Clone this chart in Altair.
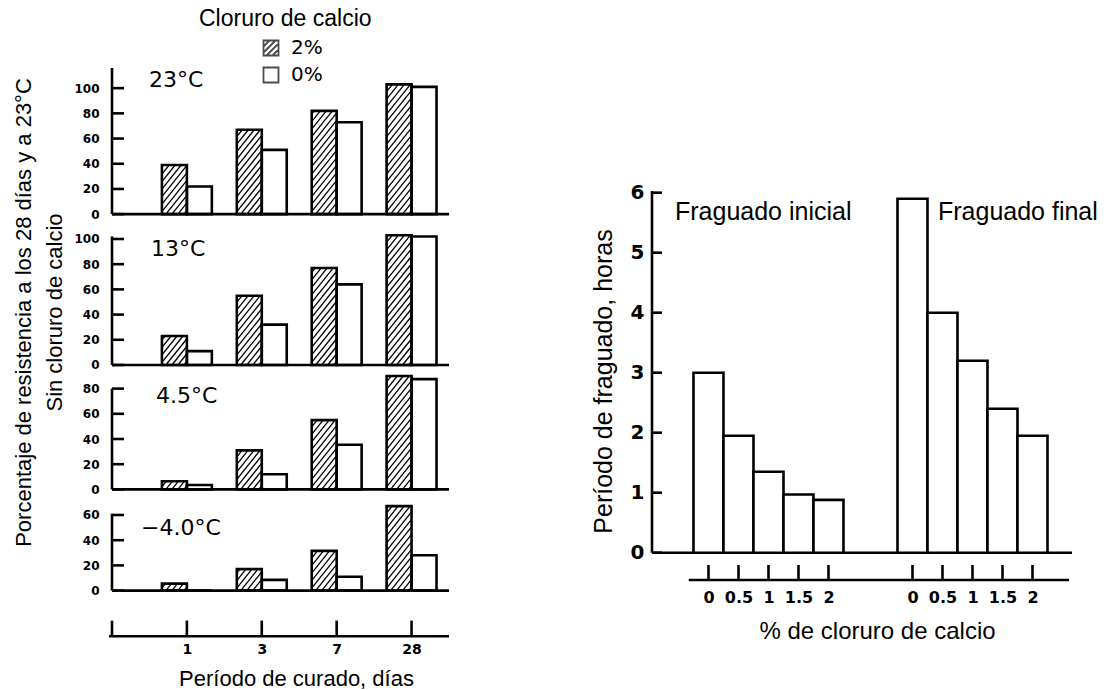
import altair as alt
import pandas as pd

# ---------------- Left figure data ----------------
temperatures = ["23°C", "13°C", "4.5°C", "−4.0°C"]
curing_days = ["1", "3", "7", "28"]
cacl2_series = ["2%", "0%"]

strength_23_with = [39, 67, 82, 103]
strength_23_without = [22, 51, 73, 101]
strength_13_with = [23, 55, 77, 103]
strength_13_without = [11, 32, 64, 102]
strength_45_with = [6.5, 31, 55, 90]
strength_45_without = [3.5, 12, 35.5, 87.5]
strength_m4_with = [5.5, 17, 31.5, 67]
strength_m4_without = [0, 8.5, 11, 28]

ticks_23 = [0, 20, 40, 60, 80, 100]
ticks_13 = [0, 20, 40, 60, 80, 100]
ticks_45 = [0, 20, 40, 60, 80]
ticks_m4 = [0, 20, 40, 60]
axis_tops = [116, 102, 80, 61]

# ---------------- Right figure data ----------------
set_groups = ["Fraguado inicial", "Fraguado final"]
cacl2_pct = [0, 0.5, 1, 1.5, 2]
initial_set_hours = [3.0, 1.95, 1.35, 0.97, 0.88]
final_set_hours = [5.9, 4.0, 3.2, 2.4, 1.95]
hour_ticks = [0, 1, 2, 3, 4, 5, 6]

# ---------------- layout constants ----------------
LW = 337
LXMAX = 4.5
PXY = 1.26
PXX = LW / LXMAX
BAR = 1 / 3
ydomains = [116, 111.1, 90.8, 71.9]
temp_label_pos = [(37, 12), (39, 23.7), (44, 20.7), (29, 28.3)]
LINE = 2.6
TICKFONT = "DejaVu Sans"
TXTFONT = "Liberation Sans"

with_lists = [strength_23_with, strength_13_with, strength_45_with, strength_m4_with]
without_lists = [strength_23_without, strength_13_without, strength_45_without, strength_m4_without]
tick_lists = [ticks_23, ticks_13, ticks_45, ticks_m4]

HATCH_SLOPE = 1.25
HATCH_STEP = 7.5


def hatch_rows(x0, value):
    wpx = BAR * PXX
    hpx = value * PXY
    rows = []
    b = -HATCH_SLOPE * wpx + HATCH_STEP / 2
    while b < hpx:
        xs = max(0.0, -b / HATCH_SLOPE)
        xe = min(wpx, (hpx - b) / HATCH_SLOPE)
        if xe > xs:
            rows.append(dict(hx=x0 + xs / PXX, hy=(HATCH_SLOPE * xs + b) / PXY,
                             hx2=x0 + xe / PXX, hy2=(HATCH_SLOPE * xe + b) / PXY))
        b += HATCH_STEP
    return rows


HATCH_SYMBOL = ("M-1,-1L1,-1L1,1L-1,1Z M-1,-0.2L-0.2,-1 M-1,0.6L0.6,-1 "
                "M-0.6,1L1,-0.6 M0.2,1L1,0.2")


def panel(i):
    ydom = ydomains[i]
    H = ydom * PXY
    rows, hrows = [], []
    for j, d in enumerate(curing_days):
        pos = j + 1
        rows.append(dict(day=d, pos=pos, series=cacl2_series[0], value=with_lists[i][j],
                         x0=pos - BAR, x1=pos, zero=0))
        rows.append(dict(day=d, pos=pos, series=cacl2_series[1], value=without_lists[i][j],
                         x0=pos, x1=pos + BAR, zero=0))
        hrows += hatch_rows(pos - BAR, with_lists[i][j])
    df = pd.DataFrame(rows)
    hdf = pd.DataFrame(hrows)
    xs = alt.Scale(domain=[0, LXMAX], nice=False, zero=False)
    ys = alt.Scale(domain=[0, ydom], nice=False, zero=True)

    if i == 1:
        yaxis = alt.Axis(values=tick_lists[i], domain=False, ticks=False, tickSize=0, grid=False,
                         labelPadding=13, labelFont=TICKFONT, labelFontWeight="bold",
                         labelFontSize=12, labelColor="black",
                         title=["Porcentaje de resistencia a los 28 días y a 23°C",
                                "Sin cloruro de calcio"],
                         titleFont=TXTFONT, titleFontSize=22, titleFontWeight="normal",
                         titleColor="black", titlePadding=7, titleLineHeight=31,
                         titleY=87)
    else:
        yaxis = alt.Axis(values=tick_lists[i], domain=False, ticks=False, tickSize=0, grid=False,
                         labelPadding=13, labelFont=TICKFONT, labelFontWeight="bold",
                         labelFontSize=12, labelColor="black", title=None)

    if i == 3:
        label_expr = "[" + ",".join("'%s'" % d for d in curing_days) + "][datum.value - 1]"
        xaxis = alt.Axis(values=[j + 1 for j in range(len(curing_days))], labelExpr=label_expr,
                         offset=45.7, domain=False, ticks=False, tickSize=0, grid=False,
                         labelPadding=6, labelFont=TICKFONT, labelFontWeight="bold",
                         labelFontSize=14, labelColor="black",
                         title="Período de curado, días", titleFont=TXTFONT,
                         titleFontSize=22, titleFontWeight="normal", titleColor="black",
                         titlePadding=12, titleX=184)
    else:
        xaxis = None

    baseline = alt.Chart(pd.DataFrame({"k": [0]})).mark_rule(
        color="black", strokeWidth=LINE).encode(
        x=alt.value(0), x2=alt.value(LW), y=alt.value(H))
    yline = alt.Chart(pd.DataFrame({"a": [0], "b": [axis_tops[i]]})).mark_rule(
        color="black", strokeWidth=LINE).encode(
        x=alt.value(0), y=alt.Y("a:Q", scale=ys, axis=yaxis), y2="b:Q")
    yticks = alt.Chart(pd.DataFrame({"v": tick_lists[i]})).mark_rule(
        color="black", strokeWidth=LINE).encode(
        y=alt.Y("v:Q", scale=ys, axis=yaxis), x=alt.value(0), x2=alt.value(12))
    hatch = alt.Chart(hdf).mark_rule(color="black", strokeWidth=1.3).encode(
        x=alt.X("hx:Q", scale=xs, axis=xaxis), x2="hx2:Q",
        y=alt.Y("hy:Q", scale=ys, axis=yaxis), y2="hy2:Q")
    bars = alt.Chart(df).mark_rect(fill="white", fillOpacity=0, stroke="black",
                                   strokeWidth=LINE, strokeJoin="miter").encode(
        x=alt.X("x0:Q", scale=xs, axis=xaxis), x2="x1:Q",
        y=alt.Y("value:Q", scale=ys, axis=yaxis), y2="zero:Q")
    lx, ly = temp_label_pos[i]
    tlabel = alt.Chart(pd.DataFrame({"t": [temperatures[i]]})).mark_text(
        align="left", baseline="middle", font=TICKFONT, fontSize=22, color="black").encode(
        text="t:N", x=alt.value(lx), y=alt.value(ly))

    layers = [baseline, yline, yticks, hatch, bars, tlabel]

    if i == 0:
        legend_pts = alt.Chart(df).transform_filter("false").mark_point(
            filled=False, color="black", size=225, strokeWidth=1.8).encode(
            x=alt.X("x0:Q", scale=xs, axis=xaxis),
            y=alt.Y("value:Q", scale=ys, axis=yaxis),
            shape=alt.Shape("series:N",
                            scale=alt.Scale(domain=cacl2_series, range=[HATCH_SYMBOL, "square"]),
                            legend=alt.Legend(orient="none", legendX=87, legendY=-60,
                                              title="Cloruro de calcio", titleFont=TXTFONT,
                                              titleFontSize=23, titleFontWeight="normal",
                                              titleColor="black", titlePadding=7,
                                              labelFont=TICKFONT, labelFontSize=20,
                                              labelColor="black", labelOffset=10,
                                              symbolOffset=62, rowPadding=3,
                                              symbolSize=225, symbolStrokeWidth=1.8,
                                              symbolStrokeColor="black",
                                              symbolFillColor="white")))
        layers.append(legend_pts)

    if i == 3:
        tick_positions = [0] + [j + 1 for j in range(len(curing_days))]
        sticks = alt.Chart(pd.DataFrame({"p": tick_positions})).mark_rule(
            color="black", strokeWidth=LINE).encode(
            x=alt.X("p:Q", scale=xs, axis=xaxis), y=alt.value(H + 30), y2=alt.value(H + 45.7))
        sline = alt.Chart(pd.DataFrame({"k": [0]})).mark_rule(
            color="black", strokeWidth=LINE).encode(
            x=alt.value(-3), x2=alt.value(LW), y=alt.value(H + 45.7))
        layers += [sticks, sline]

    return alt.layer(*layers).properties(width=LW, height=H)


left = alt.vconcat(*[panel(i) for i in range(4)], spacing=10, bounds="flush").resolve_scale(
    x="independent", y="independent", shape="independent")

# ---------------- Right figure ----------------
RW = 420
RX = [-1.883, 12.117]
RH = 484.7
RYMAX = 8.078
GAP = 6.8

rrows = []
for g, vals in zip(set_groups, [initial_set_hours, final_set_hours]):
    off = 0 if g == set_groups[0] else GAP
    for p, v in zip(cacl2_pct, vals):
        u = off + 2 * p
        rrows.append(dict(group=g, pct=p, hours=v, u=u, x0=u - 0.5, x1=u + 0.5, zero=0))
rdf = pd.DataFrame(rrows)
centers = list(rdf["u"])

rxs = alt.Scale(domain=RX, nice=False, zero=False)
rys = alt.Scale(domain=[0, RYMAX], nice=False)

r_label_expr = "datum.value < %s ? datum.value / 2 : round((datum.value - %s) * 5) / 10" % (GAP - 1, GAP)

r_xaxis = alt.Axis(values=centers, labelExpr=r_label_expr, offset=27.3, domain=False,
                   ticks=False, tickSize=0, grid=False, labelPadding=9,
                   labelFont=TICKFONT, labelFontWeight="bold", labelFontSize=16,
                   labelColor="black", title="% de cloruro de calcio", titleFont=TXTFONT,
                   titleFontSize=24, titleFontWeight="normal", titleColor="black",
                   titlePadding=14, titleX=225)
r_yaxis = alt.Axis(values=hour_ticks, domain=False, ticks=False, tickSize=0, grid=False,
                   labelPadding=8, labelFont=TICKFONT, labelFontWeight="bold",
                   labelFontSize=20, labelColor="black",
                   title="Período de fraguado, horas", titleFont=TXTFONT, titleFontSize=25,
                   titleFontWeight="normal", titleColor="black", titlePadding=14, titleY=313)

r_base = alt.Chart(pd.DataFrame({"k": [0]})).mark_rule(color="black", strokeWidth=LINE).encode(
    x=alt.value(0), x2=alt.value(RW), y=alt.value(RH))
r_yline = alt.Chart(pd.DataFrame({"a": [0], "b": [6.03]})).mark_rule(
    color="black", strokeWidth=LINE).encode(
    x=alt.value(0), y=alt.Y("a:Q", scale=rys, axis=r_yaxis), y2="b:Q")
r_yticks = alt.Chart(pd.DataFrame({"v": hour_ticks})).mark_rule(
    color="black", strokeWidth=LINE).encode(
    y=alt.Y("v:Q", scale=rys, axis=r_yaxis), x=alt.value(0), x2=alt.value(10))
r_bars = alt.Chart(rdf).mark_rect(fill="white", stroke="black", strokeWidth=LINE,
                                  strokeJoin="miter").encode(
    x=alt.X("x0:Q", scale=rxs, axis=r_xaxis), x2="x1:Q",
    y=alt.Y("hours:Q", scale=rys, axis=r_yaxis), y2="zero:Q")
r_sticks = alt.Chart(rdf).mark_rule(color="black", strokeWidth=LINE).encode(
    x=alt.X("u:Q", scale=rxs, axis=r_xaxis), y=alt.value(RH + 12.3), y2=alt.value(RH + 27.3))
r_sline = alt.Chart(pd.DataFrame({"k": [0]})).mark_rule(color="black", strokeWidth=LINE).encode(
    x=alt.value(36.7), x2=alt.value(417), y=alt.value(RH + 27.3))
r_t1 = alt.Chart(pd.DataFrame({"t": [set_groups[0]]})).mark_text(
    align="left", baseline="middle", font=TXTFONT, fontSize=25, color="black").encode(
    text="t:N", x=alt.value(23), y=alt.value(143.7))
r_t2 = alt.Chart(pd.DataFrame({"t": [set_groups[1]]})).mark_text(
    align="left", baseline="middle", font=TXTFONT, fontSize=25, color="black").encode(
    text="t:N", x=alt.value(286), y=alt.value(143.7))

right = alt.layer(r_base, r_yline, r_yticks, r_bars, r_sticks, r_sline, r_t1, r_t2).properties(
    width=RW, height=RH)

chart = alt.hconcat(left, right, spacing=540, bounds="flush").resolve_scale(
    x="independent", y="independent", shape="independent").properties(
    padding={"left": 12, "top": 8, "right": 5, "bottom": 5}
).configure(background="white", font=TXTFONT).configure_view(stroke=None)

chart.save("out.html", embed_options={"renderer": "svg", "actions": False})
